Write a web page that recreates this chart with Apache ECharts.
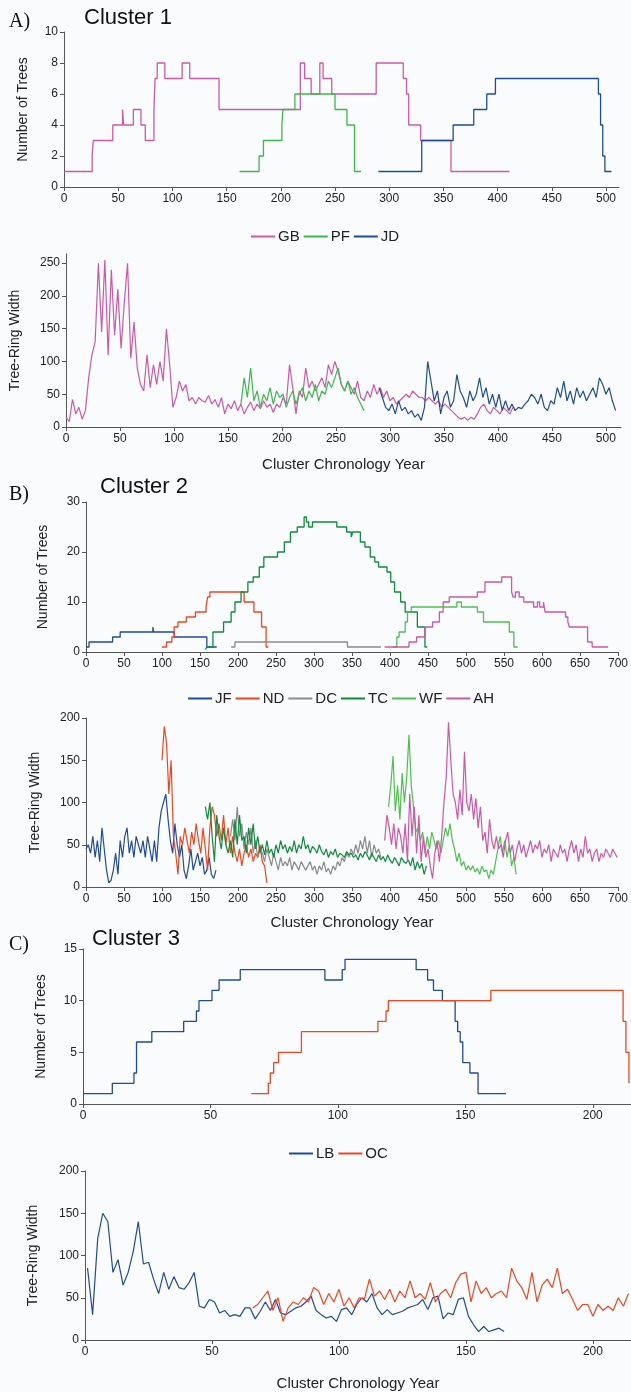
<!DOCTYPE html>
<html>
<head>
<meta charset="utf-8">
<script src="https://cdn.jsdelivr.net/npm/echarts@6/dist/echarts.min.js"></script>
<style>
  html, body { margin: 0; padding: 0; background: #fafbfd; }
  #chart { width: 631px; height: 1392px; }
</style>
</head>
<body>
<div id="chart"></div>
<script>
// ---- Cluster 1: tree counts, [year where count changes, count]
const gbCount = [[0,1],[26,2],[27,3],[45,4],[54,5],[55,4],[64,5],[71,4],[75,3],[83,5],[84,7],[86,8],[93,7],[109,8],[116,7],[143,5],[218,8],[222,7],[228,6],[236,8],[239,7],[247,6],[288,8],[313,7],[316,6],[318,4],[329,3],[357,1],[411,1]]
const pfCount = [[162,1],[180,2],[184,3],[201,4],[202,5],[213,6],[250,5],[261,4],[268,1],[274,1]]
const jdCount = [[290,1],[330,3],[359,4],[378,5],[390,6],[398,7],[493,6],[495,4],[497,2],[499,1],[505,1]]

// ---- Cluster 1: ring widths (start year, step 3)
const gbStart = 0
const gbWidth = [15,8,42,20,30,12,25,75,110,130,250,145,255,110,240,140,210,120,190,250,105,160,90,65,55,110,60,95,65,100,70,150,95,30,45,70,55,65,40,45,35,45,40,38,48,35,42,30,45,20,35,28,40,25,35,20,30,38,25,35,28,40,30,35,22,35,30,45,35,95,60,20,55,45,90,60,70,55,65,75,60,95,80,100,85,65,55,70,60,50,70,45,40,55,45,65,50,60,45,55,40,45,35,40,45,50,45,55,50,45,45,40,45,40,35,40,30,35,30,25,20,15,12,15,10,15,12,20,30,35,25,20,30,25,20,30,25,20,30]
const pfStart = 162
const pfWidth = [35,75,45,90,40,55,30,50,40,60,35,55,45,50,30,45,55,35,50,60,40,55,45,65,40,55,50,70,60,75,90,65,55,70,50,60,45,35,25]
const jdStart = 290
const jdWidth = [60,45,30,25,35,20,40,25,30,20,25,15,20,10,30,100,70,40,55,20,45,55,30,40,80,55,45,30,55,40,50,75,45,60,35,50,30,50,25,40,25,35,25,30,28,35,40,50,45,35,50,30,25,40,35,60,45,70,40,55,35,60,45,55,40,50,60,45,75,65,50,60,40,25]

// ---- Cluster 2: tree counts
const jfCount = [[0,1],[4,2],[35,3],[45,4],[88,5],[89,4],[116,3],[159,1],[172,1]]
const ndCount = [[100,1],[106,2],[113,3],[116,5],[121,6],[132,7],[144,8],[158,9],[160,11],[163,12],[208,10],[221,8],[231,5],[237,1],[240,1]]
const dcCount = [[191,1],[196,2],[344,1],[388,1]]
const tcCount = [[157,0.5],[159,1],[167,4],[181,6],[191,8],[196,10],[204,12],[213,14],[220,15],[228,17],[234,19],[252,20],[261,22],[269,24],[278,25],[287,27],[290,26],[293,25],[298,26],[330,25],[343,24],[349,23],[351,24],[361,22],[367,21],[374,19],[380,18],[385,17],[396,16],[401,14],[406,12],[414,10],[420,8],[436,5],[446,1],[449,1]]
const wfCount = [[404,1],[409,3],[412,4],[420,6],[423,8],[428,9],[488,10],[494,9],[515,8],[523,6],[557,4],[563,1],[568,1]]
const ahCount = [[393,1],[425,2],[435,3],[446,5],[456,6],[465,8],[470,10],[478,11],[515,12],[525,14],[547,15],[560,12],[562,11],[565,12],[570,11],[576,10],[589,9],[594,10],[597,9],[602,10],[604,8],[631,7],[634,6],[636,5],[660,2],[666,1],[687,1]]

// ---- Cluster 2: ring widths (start year, step 3)
const jfStart = 0
const jfWidth = [45,50,40,60,35,55,30,70,45,20,5,8,20,40,15,55,35,60,70,40,55,35,60,50,40,55,35,60,45,30,55,30,70,90,100,110,80,55,40,75,50,35,50,20,10,25,45,20,30,40,25,35,15,20,35,15,10,20]
const ndStart = 100
const ndWidth = [150,190,170,110,150,60,40,15,60,50,70,55,40,65,50,75,55,40,70,45,20,70,95,85,60,75,55,85,50,70,40,60,40,30,45,25,40,50,35,45,30,40,35,50,30,25,5]
const dcStart = 190
const dcWidth = [60,80,55,95,60,75,45,65,50,70,40,55,35,45,40,30,45,35,25,40,30,20,35,25,30,25,35,20,30,25,20,30,25,20,25,30,20,25,15,25,20,30,18,22,15,25,20,30,25,35,30,40,35,45,38,50,40,55,45,60,40,55,35,50,40,45,35]
const tcStart = 157
const tcWidth = [95,80,100,60,30,85,60,45,70,50,40,55,35,80,50,85,55,60,40,70,50,75,45,60,40,50,38,55,40,45,35,50,40,55,45,50,40,48,42,55,40,50,45,60,45,50,40,48,45,40,50,42,38,45,35,42,38,45,35,40,38,35,42,38,40,35,38,32,40,35,42,38,32,40,35,30,38,32,36,30,38,32,28,35,30,25,35,30,28,32,25,35,20,30,22,28,15,25]
const wfStart = 398
const wfWidth = [95,120,155,90,120,80,135,100,130,180,120,95,65,70,55,65,40,60,45,65,55,45,55,40,55,70,60,75,55,45,30,40,25,30,20,25,20,25,18,22,15,25,18,20,10,20,15,30,45,60,40,55,35,50,25,35,15]
const ahStart = 393
const ahWidth = [55,85,70,50,75,45,70,60,40,75,30,110,60,95,40,85,30,60,35,45,25,10,40,55,30,60,100,130,195,150,110,100,80,115,85,160,100,90,110,80,105,70,95,55,65,40,80,55,45,60,45,50,35,55,65,40,50,30,45,55,40,50,35,45,55,40,50,45,55,35,45,40,50,30,45,40,35,50,40,45,30,45,55,40,50,30,45,35,60,40,45,30,40,45,30,40,35,45,40,35,45,40,35]

// ---- Cluster 3: tree counts
const lbCount = [[0,1],[11.5,2],[20,3],[21,6],[27,7],[39.5,8],[44.5,9],[45.5,10],[50.6,11],[53.4,12],[61.7,13],[94.9,12],[101.7,13],[102.8,14],[130.7,13],[135.2,12],[137.5,11],[141,10],[146,8],[147,7],[148,6],[149,4],[151.8,3],[155,1],[166,1]]
const ocCount = [[66,1],[72.7,2],[73.5,3],[74.8,4],[76.7,5],[85.7,7],[115.7,8],[118.9,9],[119.8,10],[160,11],[211.9,8],[213,5],[214.2,2]]

// ---- Cluster 3: ring widths (start year, step 2)
const lbStart = 1
const lbWidth = [85,30,120,150,140,80,95,65,80,105,140,90,92,72,55,80,60,75,62,60,68,80,40,38,48,45,32,35,28,30,28,38,38,25,34,45,35,48,32,30,34,38,40,45,52,35,30,26,28,22,36,38,30,42,50,45,55,38,30,36,30,32,34,38,40,42,48,36,50,52,25,32,30,48,50,28,18,10,16,10,12,14,10]
const ocStart = 66
const ocWidth = [38,42,50,58,35,50,22,38,45,42,50,45,62,58,42,55,45,60,40,50,38,50,48,72,52,58,48,60,45,58,50,70,50,55,48,68,45,55,60,50,68,78,80,45,70,55,62,50,55,58,50,85,70,62,48,80,45,65,72,62,85,55,60,48,35,42,42,28,42,35,40,35,50,40,55]

const PINK = '#cc58a8'
const GREEN = '#3cb84a'
const BLUE = '#1f4b9e'
const RED = '#f2441d'
const GRAY = '#8a8a8a'
const DKGREEN = '#0d8c3c'
const LTGREEN = '#4fc04f'

const FONT = 'Liberation Sans'

function widthPairs(start, step, values) {
  return values.map((v, i) => [start + i * step, v])
}

// panels: grid boxes in px
const grids = [
  { left: 64, top: 32, width: 555, height: 155 },
  { left: 66, top: 254, width: 555, height: 173 },
  { left: 86, top: 502, width: 534, height: 150 },
  { left: 86, top: 718, width: 534, height: 169 },
  { left: 83, top: 949, width: 548, height: 155 },
  { left: 85, top: 1171, width: 546, height: 171 }
]

function xAxisFor(gridIndex, max, interval, name, nameGap) {
  return {
    type: 'value', gridIndex, min: 0, max, interval,
    name: name || '', nameLocation: 'middle', nameGap: nameGap || 0,
    nameTextStyle: { fontFamily: FONT, fontSize: 15, color: '#222' },
    axisLine: { lineStyle: { color: '#555', width: 1 } },
    axisTick: { inside: false, length: 4, lineStyle: { color: '#555' } },
    axisLabel: { fontFamily: FONT, fontSize: 12, color: '#222', margin: 6, showMaxLabel: max % interval === 0 },
    splitLine: { show: false }
  }
}

function yAxisFor(gridIndex, max, interval, name, nameGap) {
  return {
    type: 'value', gridIndex, min: 0, max, interval,
    name, nameLocation: 'middle', nameGap,
    nameTextStyle: { fontFamily: FONT, fontSize: 14, color: '#222' },
    axisLine: { show: true, lineStyle: { color: '#555', width: 1 } },
    axisTick: { show: true, inside: false, length: 4, lineStyle: { color: '#555' } },
    axisLabel: { fontFamily: FONT, fontSize: 12, color: '#222', margin: 6, showMaxLabel: max % interval === 0 },
    splitLine: { show: false }
  }
}

function stepSeries(name, color, idx, data) {
  return { name, type: 'line', xAxisIndex: idx, yAxisIndex: idx, step: 'end', data, showSymbol: false, symbol: 'none',
    lineStyle: { color, width: 1.3 }, itemStyle: { color }, animation: false }
}

function widthSeries(name, color, idx, start, step, values) {
  return { name, type: 'line', xAxisIndex: idx, yAxisIndex: idx, data: widthPairs(start, step, values), showSymbol: false, symbol: 'none',
    lineStyle: { color, width: 1.2 }, itemStyle: { color }, animation: false }
}

function legendFor(top, names, centerX) {
  return {
    top, left: centerX, data: names, icon: 'rect', itemWidth: 24, itemHeight: 2, itemGap: 4,
    textStyle: { fontFamily: FONT, fontSize: 15, color: '#222', padding: [0, 0, 0, -2] }
  }
}

function heading(text, left, top, size, family) {
  return { text, left, top, textStyle: { fontFamily: family, fontSize: size, fontWeight: 'normal', color: '#111' } }
}

const option = {
  backgroundColor: '#fafbfd',
  animation: false,
  title: [
    heading('A)', 4, 7, 20, 'Liberation Serif'),
    heading('Cluster 1', 79, 2, 22, FONT),
    heading('B)', 4, 480, 20, 'Liberation Serif'),
    heading('Cluster 2', 95, 471, 22, FONT),
    heading('C)', 4, 930, 20, 'Liberation Serif'),
    heading('Cluster 3', 87, 923, 22, FONT)
  ],
  legend: [
    legendFor(224, ['GB', 'PF', 'JD'], 246),
    legendFor(686, ['JF', 'ND', 'DC', 'TC', 'WF', 'AH'], 183),
    legendFor(1141, ['LB', 'OC'], 284)
  ],
  grid: grids,
  xAxis: [
    xAxisFor(0, 512, 50),
    xAxisFor(1, 514, 50, 'Cluster Chronology Year', 30),
    xAxisFor(2, 700, 50),
    xAxisFor(3, 700, 50, 'Cluster Chronology Year', 28),
    xAxisFor(4, 215, 50),
    xAxisFor(5, 215, 50, 'Cluster Chronology Year', 36)
  ],
  yAxis: [
    yAxisFor(0, 10, 2, 'Number of Trees', 34),
    yAxisFor(1, 264, 50, 'Tree-Ring Width', 44),
    yAxisFor(2, 30, 10, 'Number of Trees', 36),
    yAxisFor(3, 200, 50, 'Tree-Ring Width', 44),
    yAxisFor(4, 15, 5, 'Number of Trees', 35),
    yAxisFor(5, 200, 50, 'Tree-Ring Width', 45)
  ],
  series: [
    stepSeries('GB', PINK, 0, gbCount),
    stepSeries('PF', GREEN, 0, pfCount),
    stepSeries('JD', BLUE, 0, jdCount),
    widthSeries('GB', PINK, 1, gbStart, 3, gbWidth),
    widthSeries('PF', GREEN, 1, pfStart, 3, pfWidth),
    widthSeries('JD', BLUE, 1, jdStart, 3, jdWidth),

    stepSeries('JF', BLUE, 2, jfCount),
    stepSeries('ND', RED, 2, ndCount),
    stepSeries('DC', GRAY, 2, dcCount),
    stepSeries('TC', DKGREEN, 2, tcCount),
    stepSeries('WF', LTGREEN, 2, wfCount),
    stepSeries('AH', PINK, 2, ahCount),
    widthSeries('JF', BLUE, 3, jfStart, 3, jfWidth),
    widthSeries('ND', RED, 3, ndStart, 3, ndWidth),
    widthSeries('DC', GRAY, 3, dcStart, 3, dcWidth),
    widthSeries('TC', DKGREEN, 3, tcStart, 3, tcWidth),
    widthSeries('WF', LTGREEN, 3, wfStart, 3, wfWidth),
    widthSeries('AH', PINK, 3, ahStart, 3, ahWidth),

    stepSeries('LB', BLUE, 4, lbCount),
    stepSeries('OC', RED, 4, ocCount),
    widthSeries('LB', BLUE, 5, lbStart, 2, lbWidth),
    widthSeries('OC', RED, 5, ocStart, 2, ocWidth)
  ]
}

const chart = echarts.init(document.getElementById('chart'))
chart.setOption(option)
</script>
</body>
</html>
